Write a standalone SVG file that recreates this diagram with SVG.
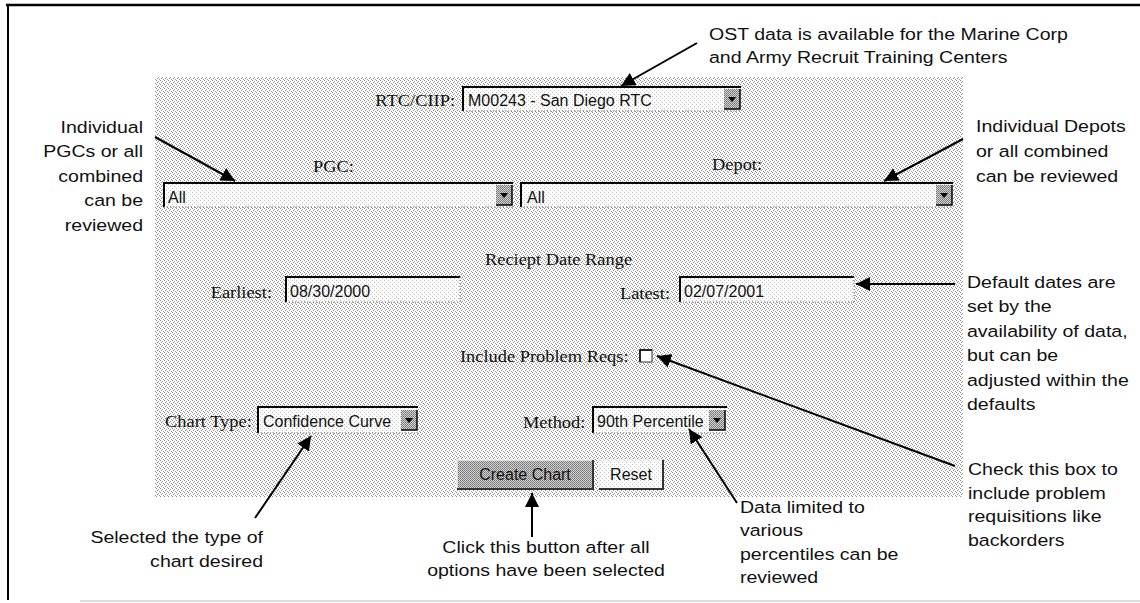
<svg xmlns="http://www.w3.org/2000/svg" width="1140" height="603" viewBox="0 0 1140 603">
<defs>
<pattern id="stip" width="4" height="4" patternUnits="userSpaceOnUse">
<rect width="4" height="4" fill="#fff"/>
<rect x="0" y="0" width="1" height="1" fill="#8a8a8a"/>
<rect x="2" y="1" width="1" height="1" fill="#9a9a9a"/>
<rect x="1" y="2" width="1" height="1" fill="#8a8a8a"/>
<rect x="3" y="3" width="1" height="1" fill="#9a9a9a"/>
</pattern>
<pattern id="stipLight" width="4" height="4" patternUnits="userSpaceOnUse">
<rect width="4" height="4" fill="#fff"/>
<rect x="0" y="0" width="1" height="1" fill="#c4c4c4"/>
<rect x="2" y="2" width="1" height="1" fill="#c4c4c4"/>
</pattern>
<pattern id="stipDark" width="2" height="2" patternUnits="userSpaceOnUse">
<rect width="2" height="2" fill="#d0d0d0"/>
<rect x="0" y="0" width="1" height="1" fill="#777"/>
<rect x="1" y="1" width="1" height="1" fill="#888"/>
</pattern>
<marker id="ah" markerUnits="userSpaceOnUse" markerWidth="15" markerHeight="14" refX="14" refY="7" orient="auto">
<path d="M0,0 L14,7 L0,14 z" fill="#000"/>
</marker>
<g id="dd">
<rect x="0" y="0" width="16" height="20" fill="url(#stipDark)"/>
<path d="M0,20 H16 V0" fill="none" stroke="#000" stroke-width="1.5"/>
<path d="M4,8 H12 L8,13 z" fill="#000"/>
</g>
</defs>
<style>
.ann{font-family:"Liberation Sans",Arial,sans-serif;font-size:17px;fill:#111}
.lbl{font-family:"Liberation Serif","Times New Roman",serif;font-size:16px;fill:#111}
.val{font-family:"Liberation Sans",Arial,sans-serif;font-size:16px;fill:#111}
.box{fill:url(#stipLight)}
.edge{fill:none;stroke:#000;stroke-width:2}
.dot{fill:none;stroke:#666;stroke-width:1;stroke-dasharray:1 2}
.conn{fill:none;stroke:#000;stroke-width:2;marker-end:url(#ah)}
</style>

<!-- frame -->
<path d="M6,5 H1140" stroke="#000" stroke-width="2.5" fill="none"/>
<path d="M8,5 V600" stroke="#000" stroke-width="2" fill="none"/>
<path d="M80,601 H1140" stroke="#bbb" stroke-width="1" fill="none"/>

<!-- form background -->
<rect id="form-bg" x="155" y="77" width="808" height="420" fill="url(#stip)"/>

<!-- RTC/CIIP -->
<g id="rtc">
<g transform="translate(455,0) scale(1.15,1)"><text class="lbl" x="0" y="106" text-anchor="end">RTC/CIIP:</text></g>
<rect class="box" x="463" y="87" width="278" height="24"/>
<path class="edge" d="M463,111 V87 H741"/>
<path class="dot" d="M463,111 H741"/>
<text class="val" x="468" y="106">M00243 - San Diego RTC</text>
<use href="#dd" x="724" y="89"/>
</g>

<!-- PGC -->
<g id="pgc">
<g transform="translate(313,0) scale(1.15,1)"><text class="lbl" x="0" y="172">PGC:</text></g>
<rect class="box" x="164" y="183" width="349" height="24"/>
<path class="edge" d="M164,207 V183 H513"/>
<path class="dot" d="M164,207 H513"/>
<text class="val" x="168" y="203">All</text>
<use href="#dd" x="496" y="185"/>
</g>

<!-- Depot -->
<g id="depot">
<g transform="translate(712,0) scale(1.15,1)"><text class="lbl" x="0" y="170">Depot:</text></g>
<rect class="box" x="521" y="183" width="432" height="24"/>
<path class="edge" d="M521,207 V183 H953"/>
<path class="dot" d="M521,207 H953"/>
<text class="val" x="527" y="203">All</text>
<use href="#dd" x="936" y="185"/>
</g>

<!-- Date range -->
<g id="date-range">
<g transform="translate(485,0) scale(1.15,1)"><text class="lbl" x="0" y="265">Reciept Date Range</text></g>
</g>
<g id="earliest">
<g transform="translate(272,0) scale(1.15,1)"><text class="lbl" x="0" y="298" text-anchor="end">Earliest:</text></g>
<rect class="box" x="286" y="277" width="174" height="25"/>
<path class="edge" d="M286,302 V277 H460"/>
<path class="dot" d="M286,302 H460 V277"/>
<text class="val" x="290" y="297">08/30/2000</text>
</g>
<g id="latest">
<g transform="translate(670,0) scale(1.15,1)"><text class="lbl" x="0" y="299" text-anchor="end">Latest:</text></g>
<rect class="box" x="680" y="277" width="174" height="25"/>
<path class="edge" d="M680,302 V277 H854"/>
<path class="dot" d="M680,302 H854 V277"/>
<text class="val" x="684" y="297">02/07/2001</text>
</g>

<!-- Include problem reqs -->
<g id="problem">
<g transform="translate(460,0) scale(1.15,1)"><text class="lbl" x="0" y="362">Include Problem Reqs:</text></g>
<rect x="640" y="350" width="12" height="12" fill="#fff" stroke="#333" stroke-width="1"/>
<path d="M640,362 V350 H652" fill="none" stroke="#000" stroke-width="1.5"/>
</g>

<!-- Chart type -->
<g id="chart-type">
<g transform="translate(165,0) scale(1.15,1)"><text class="lbl" x="0" y="427">Chart Type:</text></g>
<rect class="box" x="258" y="407" width="160" height="26"/>
<path class="edge" d="M258,433 V407 H418"/>
<path class="dot" d="M258,433 H418"/>
<text class="val" x="263" y="427">Confidence Curve</text>
<use href="#dd" x="401" y="410"/>
</g>

<!-- Method -->
<g id="method">
<g transform="translate(523,0) scale(1.15,1)"><text class="lbl" x="0" y="428">Method:</text></g>
<rect class="box" x="593" y="407" width="134" height="26"/>
<path class="edge" d="M593,433 V407 H727"/>
<path class="dot" d="M593,433 H727"/>
<text class="val" x="597" y="427">90th Percentile</text>
<use href="#dd" x="709" y="410"/>
</g>

<!-- Buttons -->
<g id="btn-create">
<rect x="457" y="460" width="136" height="29" fill="url(#stipDark)"/>
<path d="M457,489 V460 H593" fill="none" stroke="#eee" stroke-width="1.5"/>
<path d="M457,489 H593 V460" fill="none" stroke="#333" stroke-width="2"/>
<text class="val" x="525" y="480" text-anchor="middle">Create Chart</text>
</g>
<g id="btn-reset">
<rect x="599" y="460" width="64" height="29" fill="url(#stipLight)"/>
<path d="M599,489 V460 H663" fill="none" stroke="#eee" stroke-width="1.5"/>
<path d="M599,489 H663 V460" fill="none" stroke="#333" stroke-width="2"/>
<text class="val" x="631" y="480" text-anchor="middle">Reset</text>
</g>

<!-- Annotations -->
<g id="ann-ost" transform="translate(709,0) scale(1.15,1)">
<text class="ann" x="0" y="40">OST data is available for the Marine Corp</text>
<text class="ann" x="0" y="63">and Army Recruit Training Centers</text>
</g>
<g id="ann-pgc" transform="translate(143,0) scale(1.15,1)">
<text class="ann" x="0" y="133" text-anchor="end">Individual</text>
<text class="ann" x="0" y="157.5" text-anchor="end">PGCs or all</text>
<text class="ann" x="0" y="182" text-anchor="end">combined</text>
<text class="ann" x="0" y="206.5" text-anchor="end">can be</text>
<text class="ann" x="0" y="231" text-anchor="end">reviewed</text>
</g>
<g id="ann-depot" transform="translate(976,0) scale(1.15,1)">
<text class="ann" x="0" y="132">Individual Depots</text>
<text class="ann" x="0" y="157">or all combined</text>
<text class="ann" x="0" y="182">can be reviewed</text>
</g>
<g id="ann-dates" transform="translate(967,0) scale(1.15,1)">
<text class="ann" x="0" y="288">Default dates are</text>
<text class="ann" x="0" y="312.5">set by the</text>
<text class="ann" x="0" y="337">availability of data,</text>
<text class="ann" x="0" y="361.5">but can be</text>
<text class="ann" x="0" y="386">adjusted within the</text>
<text class="ann" x="0" y="410.5">defaults</text>
</g>
<g id="ann-check" transform="translate(968,0) scale(1.15,1)">
<text class="ann" x="0" y="475">Check this box to</text>
<text class="ann" x="0" y="499">include problem</text>
<text class="ann" x="0" y="522.5">requisitions like</text>
<text class="ann" x="0" y="546">backorders</text>
</g>
<g id="ann-method" transform="translate(740,0) scale(1.15,1)">
<text class="ann" x="0" y="513">Data limited to</text>
<text class="ann" x="0" y="536.5">various</text>
<text class="ann" x="0" y="560">percentiles can be</text>
<text class="ann" x="0" y="583.5">reviewed</text>
</g>
<g id="ann-create" transform="translate(546,0) scale(1.15,1)">
<text class="ann" x="0" y="553" text-anchor="middle">Click this button after all</text>
<text class="ann" x="0" y="576" text-anchor="middle">options have been selected</text>
</g>
<g id="ann-chart" transform="translate(263,0) scale(1.15,1)">
<text class="ann" x="0" y="543" text-anchor="end">Selected the type of</text>
<text class="ann" x="0" y="567" text-anchor="end">chart desired</text>
</g>

<!-- Connectors -->
<g id="connectors">
<line class="conn" x1="697" y1="43" x2="621" y2="86"/>
<line class="conn" x1="155" y1="137" x2="235" y2="181"/>
<line class="conn" x1="963" y1="139" x2="884" y2="181"/>
<line class="conn" x1="955" y1="284" x2="856" y2="284"/>
<line class="conn" x1="955" y1="466" x2="657" y2="356"/>
<line class="conn" x1="737" y1="503" x2="689" y2="429"/>
<line class="conn" x1="255" y1="518" x2="311" y2="436"/>
<line class="conn" x1="532" y1="537" x2="532" y2="493"/>
</g>
</svg>
